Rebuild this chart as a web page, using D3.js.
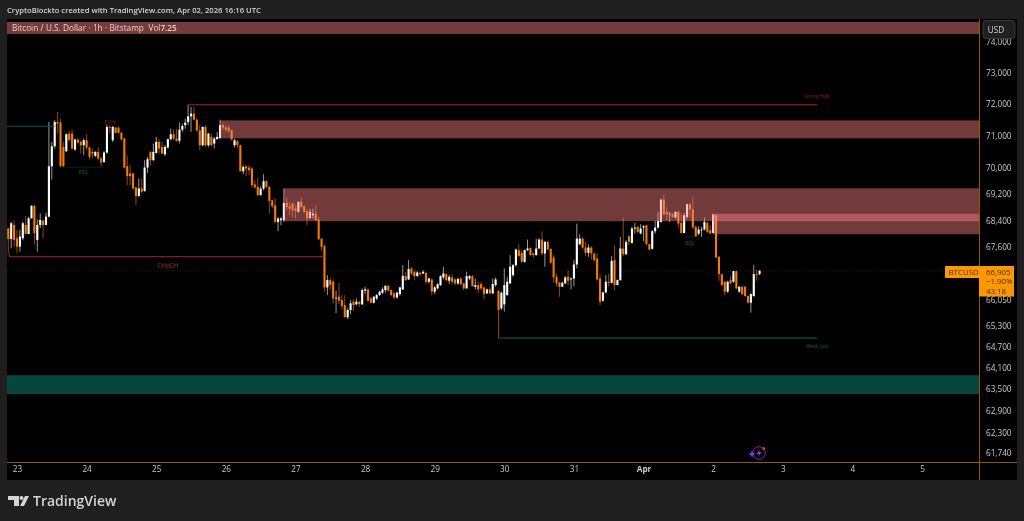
<!DOCTYPE html>
<html><head><meta charset="utf-8">
<script src="https://cdn.jsdelivr.net/npm/d3@7/dist/d3.min.js"></script>
<style>
html,body{margin:0;padding:0;background:#1f1f1f;overflow:hidden}
svg{display:block;filter:blur(.3px)}
text{font-family:"Open Sans","DejaVu Sans",sans-serif}
</style></head><body>
<svg id="c" width="1024" height="521"></svg>
<script>
const opens=[68170,67850,68270,67870,67620,67870,68270,68000,68470,68850,
67820,68270,68400,68270,68520,70060,70680,71440,71420,70660,
70526,71077,71077,70578,70890,70816,70712,70868,70640,70505,
70380,70505,70300,70195,70485,71285,70868,71265,71265,71100,
70920,70060,69836,69836,69408,69145,69378,69297,70020,70505,
70247,70474,70816,70660,70432,70640,70900,71056,70920,70850,
71200,71340,71440,71620,71705,71515,71180,70712,71285,70712,
70973,70765,70900,70940,71340,71265,71265,71180,70712,70838,
70712,69907,70060,70020,69990,69500,69429,
69170,69373,69600,69424,69018,68865,68362,68412,68412,68936,
68835,68916,68765,68665,68967,68835,68695,68482,68563,68614,
68432,67861,67634,66416,66630,66581,66095,66144,66047,65902,
65547,65758,65998,65921,65998,65921,66318,66357,66095,65969,
66095,66192,66260,66338,66464,66338,66241,66124,66221,66357,
66747,66650,66973,66875,66747,66845,66826,66845,66581,66650,
66290,66386,66484,66708,66806,66611,66708,66650,66533,66679,
66533,66386,66679,66747,66435,66484,66513,66416,66241,66357,
66241,66484,66318,
65806,65921,66192,66533,66777,67071,67515,67436,67170,67515,
67584,67416,67367,67565,67832,67416,67762,67555,67298,66728,
66562,66435,66533,66728,66650,66679,67091,67693,67861,67594,
67436,67594,67416,67268,66679,66028,66270,66581,66552,67219,
66484,66630,67565,67396,67931,67733,68162,68212,68011,68192,
68262,67693,67555,68082,68192,68362,69038,68665,68594,68594,
68493,68665,68332,68031,68513,68896,68735,68212,68011,68112,
68132,68332,68112,68031,68563,67318,66806,66581,66290,66630,
66581,66895,66290,66435,66435,66163,65969,66163,66806,66806];
const highs=[68170,68370,68420,68120,68120,68370,68540,68520,68870,68870,
68440,68620,68420,68640,71440,70816,71495,71760,71545,70816,
71077,71160,71200,70920,70940,70868,70920,71056,70680,70610,
70526,70660,70350,70526,71360,71340,71315,71285,71305,71130,
70950,70400,70090,69856,69429,69683,69683,70247,70350,70526,
70765,70973,70890,70816,70712,70920,71230,71200,71230,71420,
71390,71545,71990,71916,71916,71545,71340,71305,71340,71100,
71077,70973,71130,71515,71390,71340,71340,71200,70920,70868,
70735,70092,70092,70092,70041,69632,69714,
69445,69814,69630,69445,69038,69069,68513,68513,69373,69100,
68967,68936,68865,68987,69100,68865,68735,68765,68765,68865,
68513,67861,67693,66777,66708,66650,66318,66552,66192,66192,
65806,66047,66066,66095,66018,66386,66435,66377,66144,66163,
66221,66318,66416,66484,66484,66357,66290,66290,66435,67071,
66875,67219,67022,66924,66895,66875,66924,66855,66699,66679,
66455,66533,66777,67022,66826,66777,66806,66679,66708,66708,
66552,66875,66777,66777,66679,66581,66581,66435,66386,66416,
66679,66708,66338,
66290,66973,66728,67367,67101,67565,67693,67515,67535,67832,
67594,67436,67861,67861,68082,67792,67792,67565,67367,66826,
66581,66581,66747,66924,66708,67219,68312,67991,67911,67762,
67693,67634,67436,67416,66806,66290,66777,66826,67337,67664,
66650,67911,68493,67812,67941,68212,68332,68232,68292,68262,
68262,67713,68112,68392,68665,69069,69200,68815,68665,68634,
68685,68695,68614,68634,68916,68936,69120,68262,68232,68212,
68493,68362,68262,68614,68584,67337,66826,66611,66611,66747,
66904,66904,66455,66455,66455,66192,66241,67071,66944,66924];
const lows=[67425,67570,67620,67425,67470,67820,68000,68000,68470,67670,
67470,68170,67870,68270,68500,69650,70610,71077,70041,70041,
70505,70850,70578,70536,70765,70453,70400,70578,70268,70300,
70350,70247,70060,70165,70453,71077,70816,71077,71077,70868,
69990,69480,69480,69347,68870,69125,69226,69277,69856,70092,
70227,70453,70453,70432,70380,70610,70868,70868,70816,70765,
71130,71230,71340,71130,71495,71130,70557,70680,70660,70660,
70680,70610,70900,70900,71180,71130,71100,70850,70640,70610,
69887,69816,69755,69785,69408,69378,69145,
69170,69322,69373,68614,68765,68332,68082,68262,68362,68715,
68563,68513,68462,68634,68765,68614,68262,68442,68462,68392,
67812,67495,66290,66192,66338,65950,65662,65931,65777,65547,
65489,65643,65739,65902,65854,65902,66221,65998,65950,65950,
66047,66163,66221,66260,66309,66163,66066,66095,66163,66338,
66611,66630,66777,66630,66728,66747,66806,66513,66533,66192,
66221,66357,66455,66650,66581,66513,66513,66484,66484,66484,
66338,66386,66630,66435,66357,66241,66338,66066,66221,66221,
66221,66435,64942,
65758,65710,66163,66513,66728,67022,67318,67141,67141,67495,
67357,67288,67357,67545,67367,67022,67515,67121,66552,66435,
66144,66435,66513,66484,66357,66455,66973,67663,67555,67337,
67318,67239,67170,66611,65902,65998,66241,66435,66533,66338,
66484,66611,67337,67367,67663,67713,68011,68031,67991,67782,
67663,67515,67535,68011,68162,68342,68563,68412,68362,68493,
68462,68192,68011,68011,68462,68513,68162,67911,67961,67911,
68112,68031,67991,68011,67268,66611,66455,66192,66260,66513,
66552,66357,66260,66192,66144,65950,65681,66144,66611,66777];
const closes=[67850,68320,67820,67620,67920,68320,68000,68470,68850,68020,
68270,68420,68270,68520,70060,70680,71440,71390,70060,70060,
71056,70868,70610,70890,70795,70712,70868,70640,70350,70453,
70505,70300,70175,70485,71285,71265,71285,71100,71100,70890,
70020,69755,69755,69378,69145,69378,69277,70020,70278,70247,
70505,70816,70610,70453,70660,70900,71056,70920,70850,71200,
71315,71420,71620,71705,71515,71180,70712,71285,70712,71077,
70712,70920,70973,71340,71265,71200,71160,70890,70868,70712,
69907,70041,69990,69938,69480,69408,69175,
69373,69600,69424,68998,68835,68362,68462,68462,68936,68815,
68765,68715,68695,68967,68815,68665,68462,68665,68614,68412,
67842,67614,66416,66630,66484,66095,66115,66028,65873,65547,
65758,65950,65902,65998,65931,66338,66357,66028,65969,66144,
66192,66290,66357,66464,66318,66192,66124,66260,66416,66757,
66630,66953,66826,66747,66855,66806,66875,66581,66679,66290,
66416,66513,66747,66826,66630,66728,66581,66533,66659,66513,
66386,66747,66747,66455,66484,66357,66386,66221,66357,66241,
66513,66650,65758,
66260,66484,66581,67022,67071,67535,67337,67170,67515,67565,
67367,67367,67565,67832,67416,67762,67535,67141,66708,66533,
66435,66552,66708,66611,66679,67091,67861,67861,67594,67436,
67594,67416,67219,66650,65998,66270,66581,66552,67199,66484,
66630,67565,67396,67762,67762,68162,68192,68062,68162,68232,
67693,67535,68082,68192,68392,69038,68594,68594,68614,68513,
68665,68312,68031,68563,68896,68735,68192,67931,68132,68132,
68362,68062,68011,68584,67298,66806,66484,66290,66581,66533,
66895,66386,66435,66221,66163,65969,66221,66806,66777,66905];

const priceTicks=[74000,73000,72000,71000,70000,69200,68400,67600,66050,65300,64700,64100,63500,62900,62300,61740];
const dayTicks=["2026-03-23","2026-03-24","2026-03-25","2026-03-26","2026-03-27","2026-03-28","2026-03-29","2026-03-30","2026-03-31","2026-04-01","2026-04-02","2026-04-03","2026-04-04","2026-04-05"];
const dayLabels=["23","24","25","26","27","28","29","30","31","Apr","2","3","4","5"];
// zones: first candle index, upper price, lower price
const zoneStart=[73,95,243];
const zoneTop=[71490,69383,68608];
const zoneBottom=[70929,68383,67991];
const demandTop=63895, demandBottom=63362;
const lastPrice=66905;

const W=1024,H=521,L=7,R=979,T=19,B=480,P=1017,XB=462;
const svg=d3.select("#c");
const t0=Date.UTC(2026,2,22,21);
const timeOf=i=>new Date(t0+i*3600000);
const x=d3.scaleUtc().domain([new Date(Date.UTC(2026,2,23)),new Date(Date.UTC(2026,3,5))]).range([17,922]);
const y=d3.scaleLog().domain([72000,61740]).range([104.3,453]);
const xi=i=>x(timeOf(i));
const ORANGE="#f57c00",WHITE="#ffffff",RED="#b2222e",AXIS="#c9c9c9";

svg.append("rect").attr("x",0).attr("y",0).attr("width",W).attr("height",H).attr("fill","#1f1f1f");
svg.append("rect").attr("x",L).attr("y",T).attr("width",P-L).attr("height",B-T).attr("fill","#000");
svg.append("defs").append("clipPath").attr("id","pane").append("rect").attr("x",L).attr("y",T).attr("width",R-L).attr("height",XB-T);
const pane=svg.append("g").attr("clip-path","url(#pane)");

// last price dotted line
pane.append("line").attr("x1",L).attr("x2",R).attr("y1",y(lastPrice)).attr("y2",y(lastPrice))
  .attr("stroke","#f57c00").attr("stroke-opacity",.2).attr("stroke-dasharray","1 2");

// candles
const candles=d3.range(closes.length).map(i=>({i,o:opens[i],h:highs[i],l:lows[i],c:closes[i]}));
const cg=pane.append("g");
const col=d=>d.c>=d.o?WHITE:ORANGE;
cg.selectAll("line.w").data(candles).join("line").attr("class","w")
  .attr("x1",d=>xi(d.i)).attr("x2",d=>xi(d.i)).attr("y1",d=>y(d.h)).attr("y2",d=>y(d.l))
  .attr("stroke",col).attr("stroke-width",.75).attr("stroke-opacity",.8);
cg.selectAll("rect.b").data(candles).join("rect").attr("class","b")
  .attr("x",d=>xi(d.i)-1.05).attr("width",2.1)
  .attr("y",d=>Math.min(y(d.o),y(d.c))).attr("height",d=>Math.max(.8,Math.abs(y(d.o)-y(d.c))))
  .attr("fill",col);

// supply zones above the candles
const ZONE="rgba(255,128,133,.45)";
zoneStart.forEach((s,k)=>{
  pane.append("rect").attr("x",xi(s)).attr("width",R-xi(s)).attr("y",y(zoneTop[k])).attr("height",y(zoneBottom[k])-y(zoneTop[k])).attr("fill",ZONE);
});
pane.append("rect").attr("x",L).attr("width",R-L).attr("y",y(demandTop)).attr("height",y(demandBottom)-y(demandTop)).attr("fill","#05473c");

// structure lines
const seg=(i1,i2,p,c,w)=>pane.append("line").attr("x1",xi(i1)).attr("x2",xi(i2)).attr("y1",y(p)).attr("y2",y(p)).attr("stroke",c).attr("stroke-width",w||1);
const endI=(x.invert(817)-t0)/3600000;
seg(62,endI,71984,RED);
seg(0.3,109,67320,RED);
seg(169,endI,64950,"#0b6b57");
seg(-1,16,71305,"#0b5c50",1.1);
pane.append("line").attr("x1",xi(0.3)).attr("x2",xi(0.3)).attr("y1",y(67425)).attr("y2",y(67320)).attr("stroke",RED);
seg(19,33,70030,"#0a4a40").attr("stroke-dasharray","1 1");
seg(233,238,67911,"#0a4a40").attr("stroke-dasharray","1 1");

const lab=(i,p,s,c,fs)=>pane.append("text").attr("x",xi(i)).attr("y",y(p)).attr("text-anchor","middle").attr("dominant-baseline","central").attr("fill",c).attr("font-size",fs).text(s);
lab(35,71430,"EQH","#8e1c26",5.2);
lab(26,69895,"EQL","#0a6a5a",5.2);
lab(235,67730,"EQL","#0a6a5a",5.2);
lab(55,67060,"CHoCH","#b2222e",6.4);
lab(endI,72250,"Strong High","#8e1c26",4.7);
lab(endI,64720,"Weak Low","#0a6a5a",4.7);

// title bar
svg.append("rect").attr("x",L).attr("y",22).attr("width",R-L).attr("height",12).attr("fill","#743b3c");
svg.append("text").attr("x",12).attr("y",31).attr("fill","#e2cfcf").attr("font-size",8.2).attr("word-spacing",.25).attr("xml:space","preserve").text("Bitcoin / U.S. Dollar · 1h · Bitstamp  Vol").append("tspan").attr("font-weight",600).text("7.25");
svg.append("text").attr("x",7).attr("y",13).attr("fill","#d4d4d4").attr("font-size",7.65).attr("font-weight",600).text("CryptoBlockto created with TradingView.com, Apr 02, 2026 16:16 UTC");

// price axis
const yAxis=d3.axisRight(y).tickValues(priceTicks).tickSize(0).tickPadding(0).tickFormat(d3.format(","));
const ya=svg.append("g").attr("transform",`translate(986,0)`).call(yAxis);
ya.select(".domain").remove();
ya.selectAll("text").attr("fill",AXIS).attr("font-size",8.2).attr("font-family",'"Open Sans","DejaVu Sans",sans-serif');

// time axis
const xAxis=d3.axisBottom(x).tickValues(dayTicks.map(d=>new Date(d+"T00:00:00Z"))).tickSize(0).tickPadding(0).tickFormat((d,i)=>dayLabels[i]);
const xa=svg.append("g").attr("transform",`translate(0,466)`).call(xAxis);
xa.select(".domain").remove();
xa.selectAll("text").attr("fill",AXIS).attr("font-size",8.2).attr("font-family",'"Open Sans","DejaVu Sans",sans-serif').attr("font-weight",(d,i)=>dayLabels[i]==="Apr"?700:400);

// axis borders
const BORDER="#8f560c";
svg.append("line").attr("x1",R+.5).attr("x2",R+.5).attr("y1",T).attr("y2",B).attr("stroke",BORDER);
svg.append("line").attr("x1",L).attr("x2",P).attr("y1",XB+.5).attr("y2",XB+.5).attr("stroke",BORDER);

// currency button
svg.append("rect").attr("x",983).attr("y",20.5).attr("width",32).attr("height",18).attr("rx",3).attr("fill","#1f1f1f").attr("stroke","#3a3a3a");
svg.append("text").attr("x",996).attr("y",33).attr("text-anchor","middle").attr("fill","#d4d4d4").attr("font-size",8.2).text("USD");

// price label
const LBL="#ff9800",LT="#4a2c00";
svg.append("rect").attr("x",945).attr("y",266).attr("width",34).attr("height",12).attr("fill",LBL);
svg.append("rect").attr("x",979).attr("y",266).attr("width",35).attr("height",30.5).attr("fill",LBL);
svg.append("text").attr("x",948.5).attr("y",275).attr("fill",LT).attr("font-size",7.9).text("BTCUSD");
[["66,905",275],["−1.90%",284.3],["43:18",293.6]].forEach(([s,yy])=>svg.append("text").attr("x",986).attr("y",yy).attr("fill",LT).attr("font-size",7.9).text(s));

// TradingView logo
const logo=svg.append("g").attr("fill","#d4d4d4");
logo.append("path").attr("d","M8 496H19V506H14V500H8Z");
logo.append("circle").attr("cx",21.5).attr("cy",498).attr("r",2);
logo.append("path").attr("d","M25 496H29L24 506H20Z");
svg.append("text").attr("x",33).attr("y",506).attr("fill","#d4d4d4").attr("font-size",14).attr("font-weight",600).attr("font-family",'Inter,"Open Sans",sans-serif').text("TradingView");

// news icon
const ic=svg.append("g").attr("transform","translate(759,453)");
ic.append("circle").attr("r",6.3).attr("fill","none").attr("stroke","#7b2fa8").attr("stroke-width",1);
ic.append("path").attr("d","M1 -4L-2.5 1H0L-1 4L2.5 -1H0Z").attr("fill","#9c3bc9");
ic.append("circle").attr("cx",4.8).attr("cy",-4.6).attr("r",1.5).attr("fill","#e53935");
ic.append("path").attr("d","M-7 -2.5L-5.8 -.2L-3.5 1L-5.8 2.2L-7 4.5L-8.2 2.2L-10.5 1L-8.2 -.2Z").attr("fill","#6a3de8");
</script>
</body></html>
